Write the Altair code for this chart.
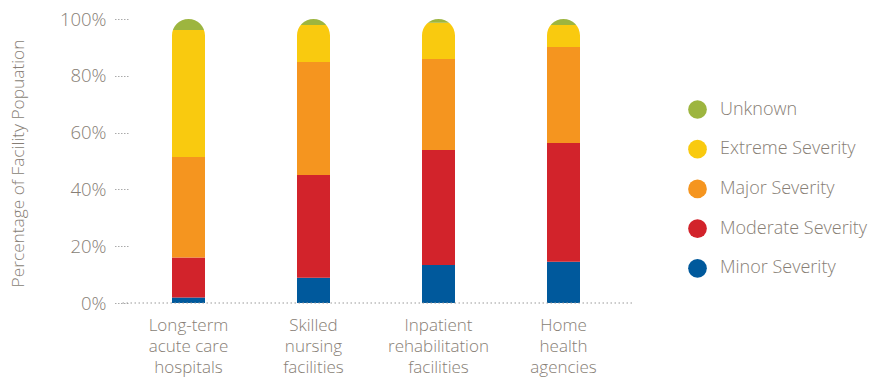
import altair as alt
import pandas as pd

categories = ["Long-term|acute care|hospitals", "Skilled|nursing|facilities",
              "Inpatient|rehabilitation|facilities", "Home|health|agencies"]
severities = ["Minor Severity", "Moderate Severity", "Major Severity", "Extreme Severity", "Unknown"]
minor = [1.9, 8.9, 13.4, 14.5]
moderate = [14.1, 36.2, 40.5, 41.8]
major = [35.4, 39.8, 32.0, 33.8]
extreme = [44.7, 13.0, 12.8, 7.8]
unknown = [3.9, 2.1, 1.3, 2.1]
colors = ["#00599c", "#d2232b", "#f5951f", "#f9ca0f", "#9db53f"]
y_ticks = [0, 20, 40, 60, 80, 100]

series = [minor, moderate, major, extreme, unknown]
rows = []
for rank, (sev, vals) in enumerate(zip(severities, series)):
    for cat, v in zip(categories, vals):
        rows.append({"category": cat, "severity": sev, "value": v, "rank": rank})
df = pd.DataFrame(rows)

TXT = "#877e75"
FONT = "Open Sans"

x_enc = alt.X("category:N", sort=categories,
              scale=alt.Scale(paddingInner=0, paddingOuter=0.048),
              axis=alt.Axis(title=None, labelExpr="split(datum.label, '|')", domain=False,
                            ticks=False, labelAngle=0, labelPadding=14, labelLineHeight=21,
                            labelFontSize=17, labelColor=TXT, labelFontWeight=300,
                            labelFont=FONT))

y_scale = alt.Scale(domain=[0, 100], nice=False)

bars = alt.Chart(df).mark_bar(size=33).encode(
    x=x_enc,
    y=alt.Y("value:Q", stack="zero", scale=y_scale,
            axis=alt.Axis(values=y_ticks, title="Percentage of Facility Popuation",
                          labelExpr="datum.value + '%'", domain=False, grid=False,
                          tickSize=14, tickDash=[1.5, 1.5], tickColor="#aaaaaa", tickWidth=1,
                          offset=-8, labelPadding=8, labelFontSize=18.5, labelColor=TXT,
                          labelFontWeight=300, labelFont=FONT,
                          titleFontSize=17.3, titleColor=TXT, titleFontWeight=300, titleFont=FONT,
                          titleX=-110, titleY=144, titleAngle=270, titleAlign="center",
                          titleBaseline="middle")),
    color=alt.Color("severity:N",
                    scale=alt.Scale(domain=severities[::-1], range=colors[::-1]),
                    legend=alt.Legend(orient="none", legendX=568, legendY=81, title=None,
                                      symbolType="circle", symbolSize=350, symbolStrokeWidth=0,
                                      symbolOpacity=1, labelFontSize=18, labelColor=TXT,
                                      labelFont=FONT, labelFontWeight=300,
                                      rowPadding=20.7, labelOffset=13, padding=0)),
    order=alt.Order("rank:Q", sort="ascending"),
)

mask_path = ("M -1.1 -0.1 L -1.1 1 L -1 1 A 1 1 0 0 1 0 0 L 0 -0.1 Z "
             "M 1.1 -0.1 L 1.1 1 L 1 1 A 1 1 0 0 0 0 0 L 0 -0.1 Z")
mask = alt.Chart(pd.DataFrame({"category": categories, "top": [100] * 4})).mark_point(
    shape=mask_path, size=1089, filled=True, fill="white", strokeWidth=0, opacity=1
).encode(
    x=alt.X("category:N", sort=categories),
    y=alt.Y("top:Q", scale=y_scale),
)

rule = alt.Chart(pd.DataFrame({"v": [0]})).mark_rule(
    strokeDash=[1.5, 2.5], color="#999999", strokeWidth=1
).encode(y=alt.Y("v:Q", scale=y_scale))

chart = alt.layer(bars, mask, rule).properties(
    width=512, height=284,
    padding={"left": 120, "top": 19, "right": 257, "bottom": 74},
    autosize=alt.AutoSizeParams(type="none"),
).configure(font=FONT).configure_view(stroke=None)

chart.save("out.html", embed_options={"renderer": "svg", "actions": False})
